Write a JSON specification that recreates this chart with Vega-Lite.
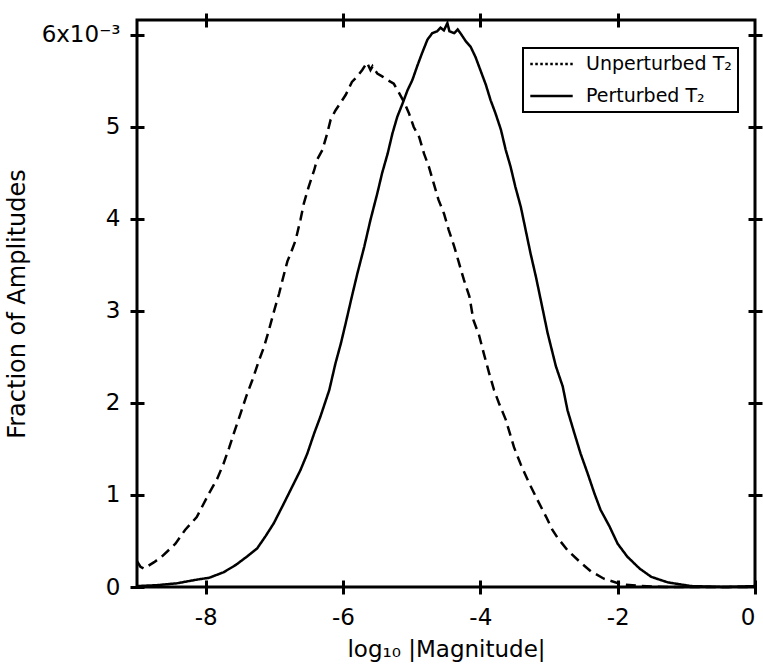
{
  "$schema": "https://vega.github.io/schema/vega-lite/v6.json",
  "width": 618,
  "height": 567,
  "autosize": "none",
  "padding": {"left": 137, "top": 20, "right": 8, "bottom": 79},
  "background": "white",
  "config": {
    "view": {"stroke": "black", "strokeWidth": 3},
    "font": "DejaVu Sans",
    "legend": {"strokeColor": "black", "strokeWidth": 2, "fillColor": "white", "padding": 6},
    "axis": {
      "domain": false,
      "grid": false,
      "offset": -7,
      "tickSize": 14,
      "tickWidth": 3,
      "tickColor": "black",
      "labelColor": "black",
      "labelFontSize": 23,
      "titleColor": "black",
      "titleFontSize": 23,
      "titleFontWeight": "normal"
    }
  },
  "data": {
    "values": [
      {"s": "Unperturbed T₂", "x": -9.0, "y": 0.28},
      {"s": "Unperturbed T₂", "x": -8.95, "y": 0.22},
      {"s": "Unperturbed T₂", "x": -8.9, "y": 0.2},
      {"s": "Unperturbed T₂", "x": -8.75, "y": 0.27},
      {"s": "Unperturbed T₂", "x": -8.64, "y": 0.33},
      {"s": "Unperturbed T₂", "x": -8.44, "y": 0.47},
      {"s": "Unperturbed T₂", "x": -8.3, "y": 0.62},
      {"s": "Unperturbed T₂", "x": -8.13, "y": 0.76},
      {"s": "Unperturbed T₂", "x": -7.95, "y": 1.02},
      {"s": "Unperturbed T₂", "x": -7.83, "y": 1.18},
      {"s": "Unperturbed T₂", "x": -7.74, "y": 1.34},
      {"s": "Unperturbed T₂", "x": -7.66, "y": 1.51},
      {"s": "Unperturbed T₂", "x": -7.59, "y": 1.67},
      {"s": "Unperturbed T₂", "x": -7.49, "y": 1.89},
      {"s": "Unperturbed T₂", "x": -7.41, "y": 2.07},
      {"s": "Unperturbed T₂", "x": -7.32, "y": 2.25},
      {"s": "Unperturbed T₂", "x": -7.22, "y": 2.47},
      {"s": "Unperturbed T₂", "x": -7.15, "y": 2.61},
      {"s": "Unperturbed T₂", "x": -7.08, "y": 2.79},
      {"s": "Unperturbed T₂", "x": -7.0, "y": 3.01},
      {"s": "Unperturbed T₂", "x": -6.93, "y": 3.19},
      {"s": "Unperturbed T₂", "x": -6.88, "y": 3.34},
      {"s": "Unperturbed T₂", "x": -6.81, "y": 3.54},
      {"s": "Unperturbed T₂", "x": -6.76, "y": 3.63},
      {"s": "Unperturbed T₂", "x": -6.69, "y": 3.77},
      {"s": "Unperturbed T₂", "x": -6.62, "y": 3.99},
      {"s": "Unperturbed T₂", "x": -6.57, "y": 4.17},
      {"s": "Unperturbed T₂", "x": -6.5, "y": 4.35},
      {"s": "Unperturbed T₂", "x": -6.42, "y": 4.53},
      {"s": "Unperturbed T₂", "x": -6.38, "y": 4.64},
      {"s": "Unperturbed T₂", "x": -6.3, "y": 4.75},
      {"s": "Unperturbed T₂", "x": -6.23, "y": 4.93},
      {"s": "Unperturbed T₂", "x": -6.18, "y": 5.08},
      {"s": "Unperturbed T₂", "x": -6.11, "y": 5.18},
      {"s": "Unperturbed T₂", "x": -6.03, "y": 5.27},
      {"s": "Unperturbed T₂", "x": -5.96, "y": 5.35},
      {"s": "Unperturbed T₂", "x": -5.87, "y": 5.49},
      {"s": "Unperturbed T₂", "x": -5.79, "y": 5.55},
      {"s": "Unperturbed T₂", "x": -5.72, "y": 5.62},
      {"s": "Unperturbed T₂", "x": -5.65, "y": 5.7},
      {"s": "Unperturbed T₂", "x": -5.6, "y": 5.62},
      {"s": "Unperturbed T₂", "x": -5.57, "y": 5.66},
      {"s": "Unperturbed T₂", "x": -5.5, "y": 5.58},
      {"s": "Unperturbed T₂", "x": -5.43, "y": 5.55},
      {"s": "Unperturbed T₂", "x": -5.35, "y": 5.51},
      {"s": "Unperturbed T₂", "x": -5.26, "y": 5.47},
      {"s": "Unperturbed T₂", "x": -5.19, "y": 5.38},
      {"s": "Unperturbed T₂", "x": -5.11, "y": 5.27},
      {"s": "Unperturbed T₂", "x": -5.04, "y": 5.15},
      {"s": "Unperturbed T₂", "x": -4.97, "y": 5.0},
      {"s": "Unperturbed T₂", "x": -4.89, "y": 4.89},
      {"s": "Unperturbed T₂", "x": -4.82, "y": 4.71},
      {"s": "Unperturbed T₂", "x": -4.75, "y": 4.57},
      {"s": "Unperturbed T₂", "x": -4.68, "y": 4.39},
      {"s": "Unperturbed T₂", "x": -4.61, "y": 4.21},
      {"s": "Unperturbed T₂", "x": -4.53, "y": 4.06},
      {"s": "Unperturbed T₂", "x": -4.46, "y": 3.88},
      {"s": "Unperturbed T₂", "x": -4.38, "y": 3.7},
      {"s": "Unperturbed T₂", "x": -4.31, "y": 3.52},
      {"s": "Unperturbed T₂", "x": -4.24, "y": 3.34},
      {"s": "Unperturbed T₂", "x": -4.16, "y": 3.16},
      {"s": "Unperturbed T₂", "x": -4.1, "y": 2.9},
      {"s": "Unperturbed T₂", "x": -4.02, "y": 2.74},
      {"s": "Unperturbed T₂", "x": -3.95, "y": 2.54},
      {"s": "Unperturbed T₂", "x": -3.87, "y": 2.32},
      {"s": "Unperturbed T₂", "x": -3.8, "y": 2.14},
      {"s": "Unperturbed T₂", "x": -3.73, "y": 2.0},
      {"s": "Unperturbed T₂", "x": -3.63, "y": 1.82},
      {"s": "Unperturbed T₂", "x": -3.57, "y": 1.67},
      {"s": "Unperturbed T₂", "x": -3.51, "y": 1.52},
      {"s": "Unperturbed T₂", "x": -3.41, "y": 1.33},
      {"s": "Unperturbed T₂", "x": -3.29, "y": 1.13},
      {"s": "Unperturbed T₂", "x": -3.17, "y": 0.95},
      {"s": "Unperturbed T₂", "x": -3.04, "y": 0.76},
      {"s": "Unperturbed T₂", "x": -2.95, "y": 0.62},
      {"s": "Unperturbed T₂", "x": -2.88, "y": 0.54},
      {"s": "Unperturbed T₂", "x": -2.73, "y": 0.4},
      {"s": "Unperturbed T₂", "x": -2.56, "y": 0.28},
      {"s": "Unperturbed T₂", "x": -2.39, "y": 0.17},
      {"s": "Unperturbed T₂", "x": -2.2, "y": 0.09},
      {"s": "Unperturbed T₂", "x": -1.95, "y": 0.03},
      {"s": "Unperturbed T₂", "x": -1.66, "y": 0.01},
      {"s": "Unperturbed T₂", "x": -1.3, "y": 0.0},
      {"s": "Unperturbed T₂", "x": 0.0, "y": 0.0},
      {"s": "Perturbed T₂", "x": -9.0, "y": 0.01},
      {"s": "Perturbed T₂", "x": -8.71, "y": 0.02},
      {"s": "Perturbed T₂", "x": -8.42, "y": 0.04},
      {"s": "Perturbed T₂", "x": -8.13, "y": 0.08},
      {"s": "Perturbed T₂", "x": -7.95, "y": 0.1},
      {"s": "Perturbed T₂", "x": -7.74, "y": 0.16},
      {"s": "Perturbed T₂", "x": -7.56, "y": 0.24},
      {"s": "Perturbed T₂", "x": -7.4, "y": 0.33},
      {"s": "Perturbed T₂", "x": -7.25, "y": 0.42},
      {"s": "Perturbed T₂", "x": -7.13, "y": 0.55},
      {"s": "Perturbed T₂", "x": -7.01, "y": 0.69},
      {"s": "Perturbed T₂", "x": -6.86, "y": 0.91},
      {"s": "Perturbed T₂", "x": -6.74, "y": 1.09},
      {"s": "Perturbed T₂", "x": -6.62, "y": 1.27},
      {"s": "Perturbed T₂", "x": -6.52, "y": 1.45},
      {"s": "Perturbed T₂", "x": -6.42, "y": 1.67},
      {"s": "Perturbed T₂", "x": -6.33, "y": 1.85},
      {"s": "Perturbed T₂", "x": -6.2, "y": 2.14},
      {"s": "Perturbed T₂", "x": -6.11, "y": 2.43},
      {"s": "Perturbed T₂", "x": -6.03, "y": 2.65},
      {"s": "Perturbed T₂", "x": -5.96, "y": 2.87},
      {"s": "Perturbed T₂", "x": -5.87, "y": 3.16},
      {"s": "Perturbed T₂", "x": -5.79, "y": 3.41},
      {"s": "Perturbed T₂", "x": -5.69, "y": 3.7},
      {"s": "Perturbed T₂", "x": -5.6, "y": 3.99},
      {"s": "Perturbed T₂", "x": -5.5, "y": 4.28},
      {"s": "Perturbed T₂", "x": -5.43, "y": 4.5},
      {"s": "Perturbed T₂", "x": -5.35, "y": 4.71},
      {"s": "Perturbed T₂", "x": -5.28, "y": 4.93},
      {"s": "Perturbed T₂", "x": -5.21, "y": 5.11},
      {"s": "Perturbed T₂", "x": -5.13, "y": 5.26},
      {"s": "Perturbed T₂", "x": -5.06, "y": 5.4},
      {"s": "Perturbed T₂", "x": -4.99, "y": 5.51},
      {"s": "Perturbed T₂", "x": -4.92, "y": 5.66},
      {"s": "Perturbed T₂", "x": -4.85, "y": 5.8},
      {"s": "Perturbed T₂", "x": -4.77, "y": 5.95},
      {"s": "Perturbed T₂", "x": -4.7, "y": 6.02},
      {"s": "Perturbed T₂", "x": -4.63, "y": 6.04},
      {"s": "Perturbed T₂", "x": -4.58, "y": 6.08},
      {"s": "Perturbed T₂", "x": -4.53, "y": 6.05},
      {"s": "Perturbed T₂", "x": -4.48, "y": 6.13},
      {"s": "Perturbed T₂", "x": -4.45, "y": 6.04},
      {"s": "Perturbed T₂", "x": -4.38, "y": 6.02},
      {"s": "Perturbed T₂", "x": -4.33, "y": 6.06},
      {"s": "Perturbed T₂", "x": -4.29, "y": 6.02},
      {"s": "Perturbed T₂", "x": -4.21, "y": 5.93},
      {"s": "Perturbed T₂", "x": -4.14, "y": 5.87},
      {"s": "Perturbed T₂", "x": -4.07, "y": 5.76},
      {"s": "Perturbed T₂", "x": -4.0, "y": 5.62},
      {"s": "Perturbed T₂", "x": -3.92, "y": 5.46},
      {"s": "Perturbed T₂", "x": -3.85, "y": 5.29},
      {"s": "Perturbed T₂", "x": -3.78, "y": 5.15},
      {"s": "Perturbed T₂", "x": -3.7, "y": 4.97},
      {"s": "Perturbed T₂", "x": -3.63, "y": 4.75},
      {"s": "Perturbed T₂", "x": -3.56, "y": 4.57},
      {"s": "Perturbed T₂", "x": -3.49, "y": 4.35},
      {"s": "Perturbed T₂", "x": -3.41, "y": 4.13},
      {"s": "Perturbed T₂", "x": -3.34, "y": 3.88},
      {"s": "Perturbed T₂", "x": -3.27, "y": 3.63},
      {"s": "Perturbed T₂", "x": -3.19, "y": 3.37},
      {"s": "Perturbed T₂", "x": -3.12, "y": 3.12},
      {"s": "Perturbed T₂", "x": -3.02, "y": 2.76},
      {"s": "Perturbed T₂", "x": -2.9, "y": 2.4},
      {"s": "Perturbed T₂", "x": -2.8, "y": 2.18},
      {"s": "Perturbed T₂", "x": -2.73, "y": 1.92},
      {"s": "Perturbed T₂", "x": -2.63, "y": 1.67},
      {"s": "Perturbed T₂", "x": -2.54, "y": 1.45},
      {"s": "Perturbed T₂", "x": -2.44, "y": 1.24},
      {"s": "Perturbed T₂", "x": -2.34, "y": 1.02},
      {"s": "Perturbed T₂", "x": -2.25, "y": 0.84},
      {"s": "Perturbed T₂", "x": -2.12, "y": 0.66},
      {"s": "Perturbed T₂", "x": -2.0, "y": 0.47},
      {"s": "Perturbed T₂", "x": -1.86, "y": 0.33},
      {"s": "Perturbed T₂", "x": -1.68, "y": 0.2},
      {"s": "Perturbed T₂", "x": -1.51, "y": 0.11},
      {"s": "Perturbed T₂", "x": -1.27, "y": 0.05},
      {"s": "Perturbed T₂", "x": -0.93, "y": 0.01},
      {"s": "Perturbed T₂", "x": -0.44, "y": 0.0},
      {"s": "Perturbed T₂", "x": 0.0, "y": 0.01}
    ]
  },
  "layer": [
    {
      "mark": {"type": "line", "color": "black", "strokeWidth": 2.5},
      "encoding": {
        "x": {
          "field": "x",
          "type": "quantitative",
          "scale": {"domain": [-9, 0], "nice": false, "zero": false},
          "axis": {
            "orient": "bottom",
            "values": [-8, -6, -4, -2, 0],
            "labelExpr": "replace(datum.label, '−', '-')",
            "labelPadding": 12,
            "title": "log₁₀ |Magnitude|",
            "titlePadding": 9
          }
        },
        "y": {
          "field": "y",
          "type": "quantitative",
          "scale": {"domain": [0, 6.163], "nice": false, "zero": false},
          "axis": {
            "orient": "left",
            "values": [0, 1, 2, 3, 4, 5, 6],
            "format": "d",
            "labelExpr": "datum.value == 6 ? '6x10⁻³' : datum.label",
            "labelPadding": 10,
            "title": "Fraction of Amplitudes",
            "titleFontSize": 24,
            "titlePadding": 12
          }
        },
        "strokeDash": {
          "field": "s",
          "type": "nominal",
          "scale": {"domain": ["Unperturbed T₂", "Perturbed T₂"], "range": [[10, 6], [1, 0]]},
          "legend": null
        }
      }
    },
    {
      "transform": [{"filter": {"field": "x", "lt": -100}}],
      "mark": {"type": "line", "color": "black", "strokeWidth": 2.5},
      "encoding": {
        "x": {
          "field": "x",
          "type": "quantitative",
          "axis": {"orient": "top", "values": [-8, -6, -4, -2], "labels": false, "title": null}
        },
        "y": {
          "field": "y",
          "type": "quantitative",
          "axis": {"orient": "right", "values": [1, 2, 3, 4, 5, 6], "labels": false, "title": null}
        },
        "strokeDash": {
          "field": "s",
          "type": "nominal",
          "scale": {"domain": ["Unperturbed T₂", "Perturbed T₂"], "range": [[2.5, 2.5], [1, 0]]},
          "legend": {
            "orient": "none",
            "legendX": 386,
            "legendY": 28,
            "title": null,
            "symbolType": "stroke",
            "symbolSize": 1800,
            "symbolStrokeWidth": 2.5,
            "symbolStrokeColor": "black",
            "clipHeight": 20,
            "labelFontSize": 19,
            "labelColor": "black",
            "labelOffset": 12,
            "rowPadding": 12
          }
        }
      }
    }
  ],
  "resolve": {
    "axis": {"x": "independent", "y": "independent"},
    "scale": {"strokeDash": "independent"}
  }
}
